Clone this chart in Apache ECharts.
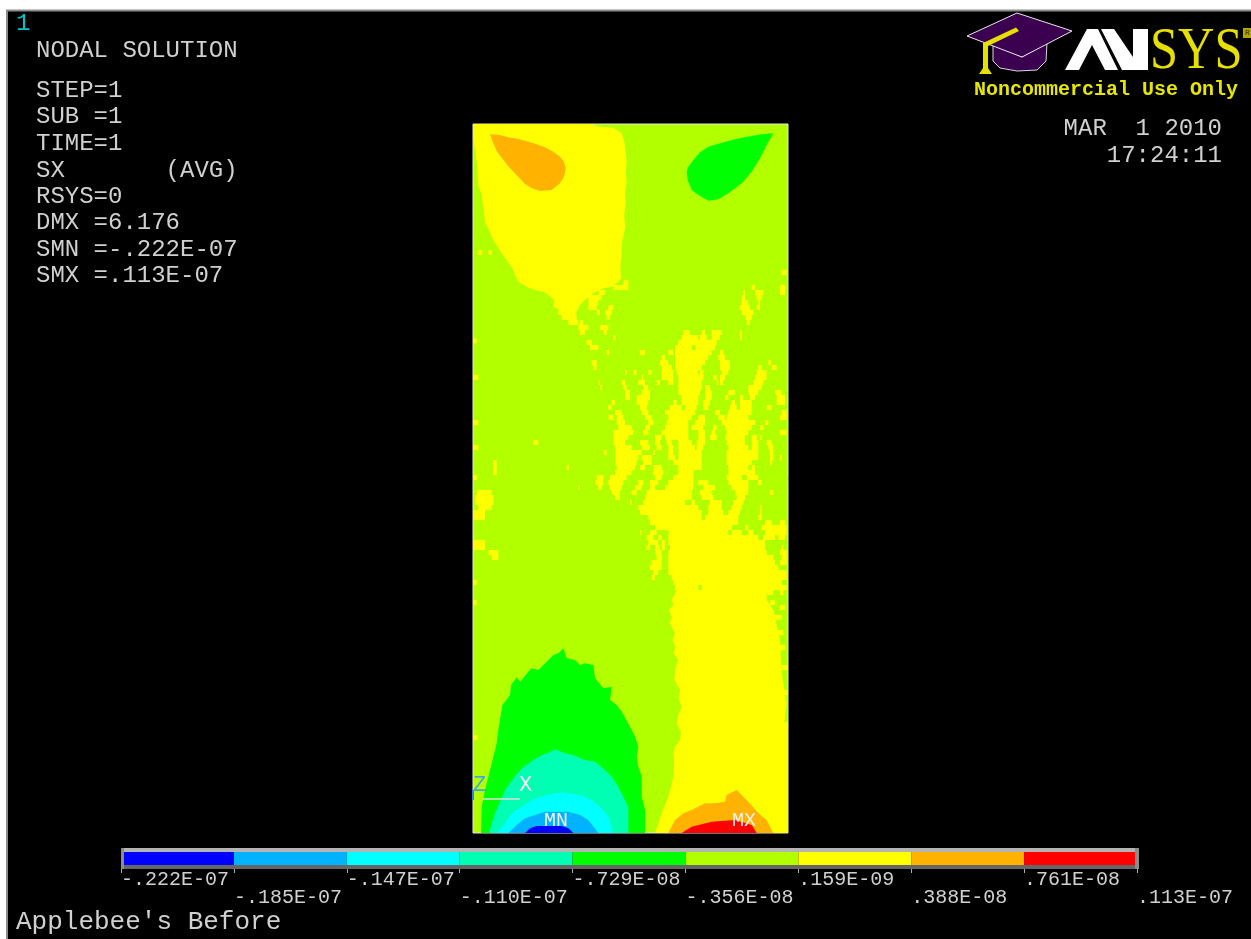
<!DOCTYPE html>
<html><head><meta charset="utf-8">
<style>html,body{margin:0;padding:0;background:#fff}#c{width:1251px;height:939px}</style>
<script src="https://cdn.jsdelivr.net/npm/echarts@6/dist/echarts.min.js"></script>
</head><body><div id="c"></div>
<script>
// contour levels and colours
const levelLabels = ['-.222E-07','-.185E-07','-.147E-07','-.110E-07','-.729E-08','-.356E-08','.159E-09','.388E-08','.761E-08','.113E-07'];
const levelColors = ['#0000ff','#00b2ff','#00ffff','#00ffb2','#00ff00','#b2ff00','#ffff00','#ffb200','#ff0000'];

const infoLines = [['NODAL SOLUTION',51],['STEP=1',91],['SUB =1',117],['TIME=1',144],['SX       (AVG)',171],['RSYS=0',197],['DMX =6.176',223],['SMN =-.222E-07',250],['SMX =.113E-07',276]];

// band outlines, plate units
const upperYellow = [[24,27],[380,27],[400,35],[445,38],[470,55],[478,80],[485,140],[482,170],[485,200],[480,235],[482,260],[478,300],[480,340],[470,385],[470,420],[466,455],[468,490],[455,505],[440,515],[415,520],[385,535],[360,555],[345,570],[335,590],[330,618],[300,605],[285,585],[265,575],[268,555],[250,540],[235,530],[210,525],[190,518],[160,500],[142,460],[110,415],[85,375],[60,320],[50,240],[40,210],[35,140],[25,70]];
const upperOrange = [[75,58],[105,60],[130,67],[160,72],[190,80],[215,88],[240,97],[265,110],[285,125],[297,140],[302,160],[297,185],[285,205],[260,225],[225,228],[200,220],[180,207],[160,185],[135,160],[115,135],[95,108],[85,85]];
const upperGreen = [[925,55],[890,58],[860,63],[830,68],[800,75],[765,85],[730,95],[705,112],[685,135],[670,155],[665,170],[668,195],[680,225],[700,240],[730,257],[760,253],[790,235],[830,205],[860,170],[885,130],[905,90]];
// lower plate outlines; y counted from the start of the lower part
const lowerYellow = [[635,0],[628,15],[620,30],[625,45],[612,60],[620,80],[615,100],[630,130],[622,150],[632,170],[625,190],[640,210],[630,240],[628,270],[645,300],[640,325],[650,350],[640,375],[635,400],[648,425],[645,450],[630,470],[625,490],[628,525],[625,560],[618,590],[610,620],[600,645],[590,670],[580,700],[570,729],[969,729],[969,405],[958,400],[965,340],[950,250],[945,150],[925,60],[905,30],[905,0]];
const lowerGreen = [[48,729],[50,650],[60,600],[75,540],[85,500],[95,460],[100,420],[108,370],[112,345],[135,315],[138,285],[155,262],[165,275],[190,245],[200,235],[220,240],[235,225],[265,195],[280,190],[295,175],[305,205],[330,210],[345,225],[360,220],[385,225],[390,265],[415,295],[440,290],[435,330],[455,345],[470,365],[495,410],[510,440],[520,470],[515,500],[520,530],[530,560],[530,620],[540,660],[540,729]];
const lowerTeal = [[72,729],[80,700],[90,670],[105,635],[120,600],[145,565],[170,535],[205,510],[230,495],[250,488],[270,478],[300,490],[325,495],[360,510],[390,515],[420,540],[440,560],[460,590],[475,620],[490,650],[490,729]];
const lowerCyan = [[95,729],[120,700],[140,670],[170,650],[200,630],[230,618],[290,607],[345,615],[380,630],[410,655],[430,680],[445,729]];
const lowerSky = [[130,729],[155,705],[180,685],[210,675],[240,665],[310,665],[345,675],[370,690],[400,729]];
const lowerBlue = [[180,729],[195,715],[215,708],[290,708],[310,715],[325,729]];
const lowerOrange = [[610,729],[630,690],[655,670],[680,660],[720,640],[750,640],[780,635],[785,615],[815,600],[835,620],[850,635],[880,670],[905,690],[925,729]];
const lowerRed = [[650,729],[680,710],[740,695],[810,690],[860,705],[875,729]];

// yellow patches: [row, from, to, from, to, ...]
const upperPatches = [
 [405,40,52,70,80],[465,950,965],[495,475,490],[510,445,490,860,870,945,960],[525,400,420,835,840,870,895,945,960],
 [540,370,410,830,840,875,890],[555,370,400,830,850,880,885],[570,370,395,430,445,825,855,875,885]
];
const midPatches = [
 [0,280,330,395,405,420,440,830,865],[15,290,335,425,435,840,860],[30,310,340,345,355,845,855],
 [45,340,370,405,430],[60,345,360,415,425,655,675,710,720,740,770,825,830],
 [75,445,452,650,700,705,725,740,765,825,830],[85,25,35],[90,365,380,640,755],[105,375,400,630,680,690,750],
 [120,425,432,525,540,610,625,630,740,765,775],[135,590,600,630,730,760,780],
 [150,380,395,585,610,630,720,765,795,910,918],[165,385,395,590,620,630,710,765,795,880,890,920,935],
 [180,480,485,505,515,550,560,590,625,635,700,705,715,770,790,875,905],
 [195,25,40,530,535,590,625,640,715,745,755,765,780,870,905],
 [210,400,405,470,480,520,540,575,585,610,625,640,710,755,760,765,775,865,895],
 [225,405,410,475,485,535,550,640,710,720,735,850,890],
 [240,480,495,530,555,640,705,720,740,790,810,850,880,930,950],
 [255,480,495,515,555,650,700,720,740,780,790,825,835,855,870,935,960],
 [270,440,450,515,550,625,635,650,700,715,735,800,810,825,860,935,960],
 [285,430,440,525,545,615,650,660,695,715,730,795,815,825,860,905,920],
 [300,450,470,530,550,600,690,750,765,790,860,950,965],
 [315,430,445,455,475,540,560,610,680,700,720,760,780,785,850,945,965],
 [330,25,40,455,480,550,565,605,670,690,720,770,870,900,910],
 [345,460,500,540,555,600,670,680,715,745,755,780,860,885,895],
 [360,445,505,535,550,590,670,700,720,740,750,785,850,945,965],
 [375,445,490,570,590,600,670,700,720,735,755,780,840,860,875,885,890],
 [390,205,220,445,480,525,550,570,585,605,620,640,680,695,720,785,840,860,880,905,920],
 [405,25,40,450,500,530,555,575,590,610,625,640,690,695,715,790,850,860,880,910,925],
 [420,415,425,450,530,565,570,610,625,640,710,785,880,915,925],
 [435,450,520,530,560,610,630,640,710,785,880,915,925,945,950],
 [450,85,95,450,515,535,560,625,710,785,860,915,920],
 [465,85,95,305,312,455,510,525,540,565,590,640,710,790,850,860,870],
 [480,85,95,450,500,565,595,640,685,790,870],
 [495,25,35,395,415,435,485,570,590,625,685,785,830,845,880],
 [510,390,415,430,475,520,535,555,580,610,685,700,730,790,850,880,890],
 [525,340,345,400,410,435,470,510,530,555,570,600,685,715,750,800,850],
 [540,35,80,440,465,500,515,545,680,705,740,810,850,915,925],
 [555,30,85,450,465,540,680,710,745,815,840],
 [570,30,85,495,500,535,660,680,690,735,770,805,835],
 [585,40,80,520,700,730,770,800,830,885,890],
 [600,25,60,525,710,730,775,790,825,885,890],
 [615,25,60,550,710,720,820,880,890],
 [630,555,820,900,920,945,960],
 [645,570,800,840,850,890,965],
 [660,525,530,555,575,610,790,800,830,850,865,900,965],
 [675,545,565,580,590,610,880,895,930,940,960],
 [690,25,60,550,580,590,600,610,900],
 [705,25,60,545,555,570,585,590,600,615,900,950,955],
 [720,70,100,570,590,610,905,945,965],
 [735,80,100,575,590,610,925,950,965],
 [750,560,590,610,930,945,965],
 [765,555,590,610,940],
 [780,565,580,610,965],
 [795,560,570,620,965],
 [810,25,35,625,950],
 [825,630,700,710,965]
];
const lowerPatches = [[0,905,925,945,955],[30,25,35,915,930],[45,905,915,945,960],[75,920,950],[120,935,955],[165,945,960],[225,950,969],[300,955,969],[395,960,969],[435,25,38]];

const midOffset = 585, lowerOffset = 1425;
const shiftRows = (rows, dy) => rows.map(r => [r[0] + dy].concat(r.slice(1)));
const shiftPts = (pts) => pts.map(p => [p[0], p[1] + lowerOffset]);

const baseBands = [[upperYellow, 6], [shiftPts(lowerYellow), 6]];
const topBands = [
 [upperOrange, 7], [upperGreen, 4],
 [shiftPts(lowerOrange), 7], [shiftPts(lowerRed), 8],
 [shiftPts(lowerGreen), 4], [shiftPts(lowerTeal), 3], [shiftPts(lowerCyan), 2], [shiftPts(lowerSky), 1], [shiftPts(lowerBlue), 0]
];
const patchRows = upperPatches.concat(shiftRows(midPatches, midOffset), shiftRows(lowerPatches, lowerOffset));
const patchData = [];
patchRows.forEach(r => { for (let i = 1; i < r.length; i += 2) patchData.push([r[i], r[i + 1], r[0]]); });

const mono = '"Liberation Mono", monospace';
const textCol = '#d0d0d0';
const txt = (t, x, y, o = {}) => ({ type: 'text', z: 10, x, y, style: Object.assign({ text: t, fill: textCol, font: `24px ${mono}`, textVerticalAlign: 'middle', textAlign: 'left' }, o) });
const poly = (pts, fill, stroke, lw) => ({ type: 'polygon', z: 9, shape: { points: pts }, style: { fill, stroke: stroke || null, lineWidth: lw || 0 } });
const strip = (x, y, w, h, fill) => ({ type: 'rect', z: 10, shape: { x, y, width: w, height: h }, style: { fill } });

const graphics = [
 { type: 'rect', z: -5, shape: { x: 7, y: 10.5, width: 1260, height: 940 }, style: { fill: '#000', stroke: '#8c8c8c', lineWidth: 2 } },
 txt('1', 16, 24, { fill: '#00c4c4' }),
 ...infoLines.map(l => txt(l[0], 36, l[1])),
 txt('MAR  1 2010', 1222, 129, { textAlign: 'right' }),
 txt('17:24:11', 1222, 156, { textAlign: 'right' }),
 txt("Applebee's Before", 16, 922, { font: `26px ${mono}` }),
 // triad and extreme markers
 txt('Z', 473, 785, { fill: '#3fa6e0', font: `22px ${mono}` }),
 txt('X', 519, 785, { fill: '#f4f4f4', font: `22px ${mono}` }),
 txt('MN', 544, 821, { fill: '#f0f0f0', font: `20px ${mono}` }),
 txt('MX', 732, 821, { fill: '#f0f0f0', font: `20px ${mono}` }),
 { type: 'line', z: 10, shape: { x1: 483, y1: 799, x2: 520, y2: 799 }, style: { stroke: '#dddddd', lineWidth: 1.5 } },
 { type: 'line', z: 10, shape: { x1: 473, y1: 790, x2: 473, y2: 800 }, style: { stroke: '#2a80ff', lineWidth: 2 } },
 // colour bar frame
 strip(121, 848, 1018, 4, '#b4b4b4'), strip(121, 865, 1018, 4, '#666666'),
 strip(121, 848, 3, 21, '#8c8c8c'), strip(1135, 848, 4, 21, '#8c8c8c'),
 // logo
 poly([[993,44],[993,61],[1000,68],[1017,71],[1037,70],[1046,61],[1047,43],[1022,57]], '#3c0050', '#d8d8d8', 1),
 poly([[967,36],[1017,13],[1072,31],[1022,57]], '#3c0050', '#e8e8e8', 1),
 poly([[1016,27.5],[1019,31],[988,46],[988,68],[992,74],[979,74],[983,68],[983,43]], '#e6e000'),
 poly([[1065,70],[1087,29],[1098,29],[1118,70],[1105,70],[1092,45],[1079,70]], '#ffffff'),
 poly([[1101,29],[1114,29],[1133,57],[1133,29],[1148,29],[1148,70],[1122,70]], '#ffffff'),
 { type: 'text', z: 10, x: 1150, y: 82, scaleX: 0.84, style: { text: 'SYS', fill: '#e6e000', font: '60px "Liberation Serif", serif', textVerticalAlign: 'bottom', textAlign: 'left' } },
 strip(1243, 28, 8, 10, '#b0a800'),
 txt('R', 1245, 33, { font: `8px ${mono}`, fill: '#222' }),
 txt('Noncommercial Use Only', 974, 90, { font: `bold 20px ${mono}`, fill: '#e6e600' })
];

const polyItem = (list) => (p, api) => {
  const b = list[p.dataIndex];
  return { type: 'polygon', shape: { points: b[0].map(q => api.coord(q)) }, style: { fill: levelColors[b[1]] } };
};

const chart = echarts.init(document.getElementById('c'), null, { renderer: 'canvas' });
chart.setOption({
 animation: false,
 backgroundColor: '#ffffff',
 grid: [
  { left: 473, top: 124, width: 315, height: 709, show: true, backgroundColor: levelColors[5], borderColor: '#e4e4e4', borderWidth: 1 },
  { left: 121, top: 852, width: 1016, height: 13, show: false }
 ],
 xAxis: [
  { gridIndex: 0, type: 'value', min: 24, max: 969, show: false },
  { gridIndex: 1, type: 'category', data: levelLabels, boundaryGap: false,
    axisLine: { show: false },
    axisTick: { show: true, length: 8, lineStyle: { color: '#aaa' }, interval: 0 },
    axisLabel: { interval: 0, margin: 6, align: 'left', verticalAlign: 'top', color: textCol, fontFamily: 'Liberation Mono', fontSize: 20, lineHeight: 18, hideOverlap: false,
      showMinLabel: true, showMaxLabel: true,
      formatter: (v, i) => (i % 2 ? '\n' : '') + v } }
 ],
 yAxis: [
  { gridIndex: 0, type: 'value', min: 27, max: 2154, inverse: true, show: false },
  { gridIndex: 1, type: 'value', min: 0, max: 1, show: false }
 ],
 graphic: graphics,
 series: [
  { type: 'custom', xAxisIndex: 0, yAxisIndex: 0, z: 2, clip: true, data: patchData, encode: { x: [0, 1], y: 2 },
    renderItem: (p, api) => {
      const a = api.coord([api.value(0), api.value(2)]);
      const b = api.coord([api.value(1), api.value(2) + 15]);
      return { type: 'rect', shape: { x: a[0], y: a[1], width: b[0] - a[0], height: b[1] - a[1] }, style: { fill: levelColors[6] } };
    } },
  { type: 'custom', xAxisIndex: 0, yAxisIndex: 0, z: 1, clip: true, data: baseBands.map((b, i) => i), renderItem: polyItem(baseBands) },
  { type: 'custom', xAxisIndex: 0, yAxisIndex: 0, z: 3, clip: true, data: topBands.map((b, i) => i), renderItem: polyItem(topBands) },
  { type: 'custom', xAxisIndex: 1, yAxisIndex: 1, z: 2, data: levelColors.map((c, i) => [i, i + 1]),
    renderItem: (p, api) => {
      const a = api.coord([api.value(0), 1]);
      const b = api.coord([api.value(1), 0]);
      return { type: 'rect', shape: { x: a[0], y: a[1], width: b[0] - a[0], height: b[1] - a[1] }, style: { fill: levelColors[p.dataIndex] } };
    } }
 ]
});
</script></body></html>
